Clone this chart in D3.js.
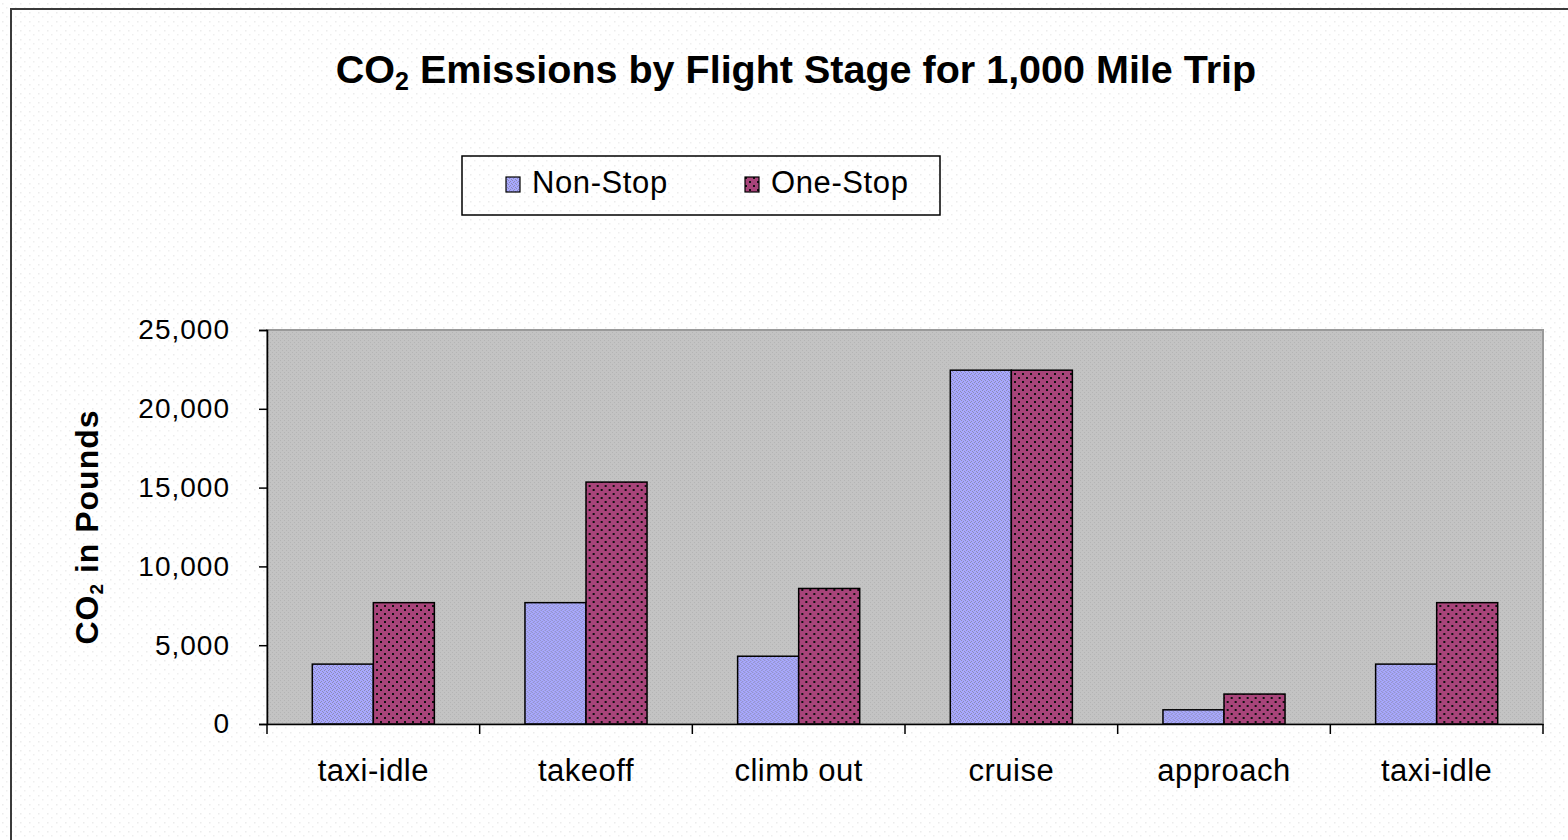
<!DOCTYPE html>
<html>
<head>
<meta charset="utf-8">
<script src="https://cdn.jsdelivr.net/npm/d3@7"></script>
<style>
  body { margin: 0; background: #fff; }
  text { font-family: "Liberation Sans", Arial, sans-serif; fill: #000; }
</style>
</head>
<body>
<svg id="chart" width="1568" height="840"></svg>
<script>
const stages = ['taxi-idle', 'takeoff', 'climb out', 'cruise', 'approach', 'taxi-idle'];
const nonStop = [3800, 7700, 4300, 22450, 900, 3800];
const oneStop = [7700, 15350, 8600, 22450, 1900, 7700];
const seriesNames = ['Non-Stop', 'One-Stop'];
const yTicks = [0, 5000, 10000, 15000, 20000, 25000];

const plot = {left: 267, right: 1543, top: 330, bottom: 724};

const svg = d3.select('#chart');
const defs = svg.append('defs');

// textures, roughly like the old excel fills
const bgPat = defs.append('pattern').attr('id', 'bgDots')
    .attr('width', 9).attr('height', 9).attr('patternUnits', 'userSpaceOnUse');
bgPat.append('rect').attr('width', 9).attr('height', 9).attr('fill', '#fff');
bgPat.append('rect').attr('x', 2).attr('y', 3).attr('width', 1.5).attr('height', 1.5).attr('fill', '#ececec');
bgPat.append('rect').attr('x', 6).attr('y', 7).attr('width', 1.5).attr('height', 1.5).attr('fill', '#efefef');

const grayPat = defs.append('pattern').attr('id', 'plotTex')
    .attr('width', 4).attr('height', 4).attr('patternUnits', 'userSpaceOnUse');
grayPat.append('rect').attr('width', 4).attr('height', 4).attr('fill', '#c3c3c3');
grayPat.append('rect').attr('x', 0).attr('y', 0).attr('width', 1).attr('height', 1).attr('fill', '#b4b4b4');
grayPat.append('rect').attr('x', 2).attr('y', 2).attr('width', 1).attr('height', 1).attr('fill', '#b4b4b4');

const nsPat = defs.append('pattern').attr('id', 'nsTex')
    .attr('width', 4).attr('height', 4).attr('patternUnits', 'userSpaceOnUse');
nsPat.append('rect').attr('width', 4).attr('height', 4).attr('fill', '#a8a8ff');
[[0, 0], [2, 1], [1, 2], [3, 3]].forEach(p => {
    nsPat.append('rect').attr('x', p[0]).attr('y', p[1]).attr('width', 1).attr('height', 1).attr('fill', '#8c8cb4');
});

const osPat = defs.append('pattern').attr('id', 'osTex')
    .attr('width', 8).attr('height', 8).attr('patternUnits', 'userSpaceOnUse');
osPat.append('rect').attr('width', 8).attr('height', 8).attr('fill', '#a8447a');
osPat.append('rect').attr('x', 1).attr('y', 1).attr('width', 2).attr('height', 2).attr('fill', '#111');
osPat.append('rect').attr('x', 5).attr('y', 5).attr('width', 2).attr('height', 2).attr('fill', '#111');

const fills = ['url(#nsTex)', 'url(#osTex)'];

// chart area + frame
svg.append('rect').attr('width', 1568).attr('height', 840).attr('fill', 'url(#bgDots)');
svg.append('rect')
    .attr('x', 11).attr('y', 9).attr('width', 1600).attr('height', 900)
    .attr('fill', 'none').attr('stroke', '#3a3a3a').attr('stroke-width', 2);

// TITLE
const title = svg.append('text')
    .attr('x', 796).attr('y', 83)
    .attr('text-anchor', 'middle')
    .style('font-size', '39.5px').style('font-weight', 'bold');
title.append('tspan').text('CO');
title.append('tspan').attr('dy', 7).style('font-size', '25px').text('2');
title.append('tspan').attr('dy', -7).text(' Emissions by Flight Stage for 1,000 Mile Trip');

// LEGEND
const legend = svg.append('g');
legend.append('rect')
    .attr('x', 462).attr('y', 156).attr('width', 478).attr('height', 59)
    .attr('fill', 'url(#bgDots)').attr('stroke', '#000').attr('stroke-width', 1.5);
const legendX = [506, 745];
seriesNames.forEach((name, i) => {
    legend.append('rect')
        .attr('x', legendX[i]).attr('y', 177).attr('width', 14).attr('height', 15)
        .attr('fill', fills[i]).attr('stroke', '#000').attr('stroke-width', 1.2);
    legend.append('text')
        .attr('x', legendX[i] + 26).attr('y', 193)
        .style('font-size', '31px').style('letter-spacing', '0.6px')
        .text(name);
});

// SCALES
const x0 = d3.scaleBand()
    .domain(d3.range(stages.length))
    .range([plot.left, plot.right])
    .padding(0);
const bw = x0.bandwidth();
const x1 = d3.scaleBand()
    .domain([0, 1])
    .range([bw * 0.213, bw * 0.787])
    .padding(0);
const y = d3.scaleLinear()
    .domain([0, 25000])
    .range([plot.bottom, plot.top]);

// PLOT AREA
svg.append('rect')
    .attr('x', plot.left).attr('y', y(25000))
    .attr('width', plot.right - plot.left).attr('height', y(0) - y(25000))
    .attr('fill', 'url(#plotTex)').attr('stroke', '#9a9a9a').attr('stroke-width', 2);

// BARS
const groups = svg.append('g').selectAll('g')
    .data(stages.map((s, i) => [nonStop[i], oneStop[i]]))
    .join('g')
    .attr('transform', (d, i) => `translate(${x0(i)},0)`);
groups.selectAll('rect')
    .data(d => d)
    .join('rect')
    .attr('x', (d, j) => x1(j))
    .attr('width', x1.bandwidth())
    .attr('y', d => y(d))
    .attr('height', d => y(0) - y(d))
    .attr('fill', (d, j) => fills[j])
    .attr('stroke', '#000')
    .attr('stroke-width', 1.5);

// AXES
const yAxis = svg.append('g')
    .attr('transform', `translate(${plot.left},0)`)
    .call(d3.axisLeft(y).tickValues(yTicks).tickSize(8).tickPadding(29).tickFormat(d3.format(',')));
yAxis.select('.domain').attr('stroke', '#000').attr('stroke-width', 1.5);
yAxis.selectAll('.tick line').attr('stroke', '#000').attr('stroke-width', 1.5);
yAxis.selectAll('.tick text')
    .style('font-size', '28px').style('letter-spacing', '1px')
    .attr('font-family', null).attr('fill', '#111');

const xAxis = svg.append('g')
    .attr('transform', `translate(0,${plot.bottom})`)
    .call(d3.axisBottom(x0).tickSize(0).tickPadding(35).tickFormat(i => stages[i]));
xAxis.select('.domain').attr('stroke', '#000').attr('stroke-width', 1.5);
xAxis.selectAll('.tick text')
    .style('font-size', '31px').style('letter-spacing', '0.5px')
    .attr('font-family', null).attr('fill', '#111');

// category boundary ticks
const edges = d3.range(stages.length).map(i => x0(i)).concat([plot.right]);
svg.append('g').selectAll('line')
    .data(edges)
    .join('line')
    .attr('x1', d => d).attr('x2', d => d)
    .attr('y1', plot.bottom).attr('y2', plot.bottom + 10)
    .attr('stroke', '#000').attr('stroke-width', 1.5);

// Y TITLE
const yTitle = svg.append('text')
    .attr('transform', `translate(98,${(plot.top + plot.bottom) / 2}) rotate(-90)`)
    .attr('text-anchor', 'middle')
    .style('font-size', '32px').style('font-weight', 'bold').style('letter-spacing', '1px');
yTitle.append('tspan').text('CO');
yTitle.append('tspan').attr('dy', 5).style('font-size', '19px').text('2');
yTitle.append('tspan').attr('dy', -5).text(' in Pounds');
</script>
</body>
</html>
